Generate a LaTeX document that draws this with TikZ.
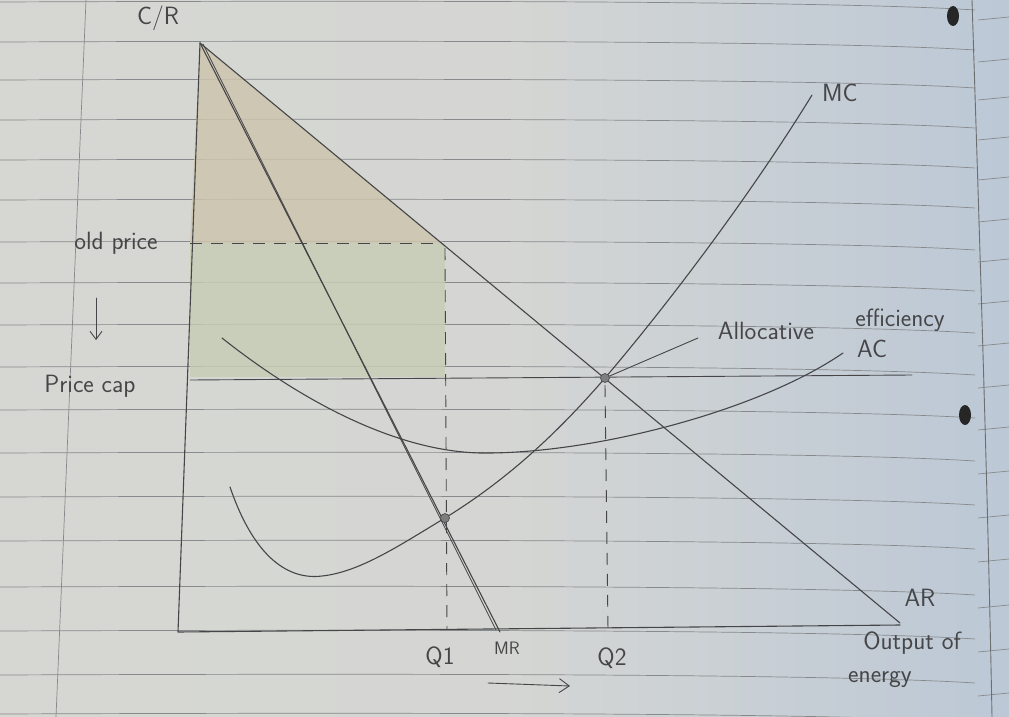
\documentclass[tikz,border=0pt]{standalone}
\usetikzlibrary{arrows.meta}
\definecolor{paperL}{RGB}{214,215,211}
\definecolor{paperR}{RGB}{188,200,214}
\definecolor{rule}{RGB}{135,138,140}
\definecolor{pencil}{RGB}{70,70,72}
\definecolor{shadeTop}{RGB}{204,196,172}
\definecolor{shadeBot}{RGB}{198,204,180}
\tikzset{
  ruled/.style={draw=rule, line width=0.7pt},
  pen/.style={draw=pencil, line width=1.1pt, line cap=round, line join=round},
  guide/.style={draw=pencil, line width=0.9pt, dash pattern=on 12pt off 9pt},
  hand/.style={text=pencil, font=\sffamily\fontsize{25}{28}\selectfont, inner sep=0pt},
  smallhand/.style={text=pencil, font=\sffamily\fontsize{18}{20}\selectfont, inner sep=0pt},
  pt/.style={circle, fill=pencil!70, draw=pencil, line width=0.6pt, minimum size=9pt, inner sep=0pt}
}
\begin{document}
\begin{tikzpicture}[x=1pt, y=-1pt]
\useasboundingbox (0,0) rectangle (1009,717);
% paper
\shade[left color=paperL, right color=paperR, middle color=paperL!95!paperR] (0,0) rectangle (1009,717);
\foreach \yy in {2,42,80,120,160,200,242,283,325,367,410,453,497,541,587,631,675,714}
  \draw[ruled] (0,\yy) .. controls (500,\yy-2) and (850,\yy) .. (975,\yy+8);
\foreach \yy in {20,62,100,140,180,222,262,304,346,388,430,474,518,562,608,652,696}
  \draw[ruled] (978,\yy) -- (1009,\yy-3);
\draw[ruled] (86,0) -- (56,717);
\draw[draw=rule!80!black, line width=0.9pt] (972,0) .. controls (980,250) and (988,500) .. (992,717);
\fill[black!85] (953,16) ellipse (6pt and 10pt);
\fill[black!85] (965,415) ellipse (6pt and 10pt);

% key points
\coordinate (apex) at (200,43);
\coordinate (origin) at (178,632);
\coordinate (xend) at (900,625);
\coordinate (arend) at (900,623);
\coordinate (mrend) at (500,632);
\coordinate (opY) at (190,243);
\coordinate (opAR) at (442,243);
\coordinate (pcY) at (190,380);
\coordinate (pcEnd) at (912,375);
\coordinate (q1top) at (445,248);
\coordinate (q1bot) at (447,630);
\coordinate (q2top) at (605,385);
\coordinate (q2bot) at (608,630);
\coordinate (lead) at (698,338);

% shaded areas
\fill[shadeTop, opacity=0.8] (apex) -- (opAR) -- (opY) -- cycle;
\fill[shadeBot, opacity=0.8] (opY) -- (445,243) -- (445,377) -- (190,377) -- cycle;

% axes
\draw[pen] (apex) -- (origin) -- (xend);

% AR and MR
\draw[pen] (apex) -- (arend);
\draw[pen] (apex) -- (mrend);
\draw[pen, line width=0.8pt] (203,44) -- (496,630);

% guide lines
\draw[guide] (opY) -- (opAR);
\draw[guide] (q1top) -- (q1bot);
\draw[guide] (q2top) -- (q2bot);
\draw[pen, line width=0.9pt] (pcY) -- (pcEnd);

% MC curve
\draw[pen] (230,487) .. controls (255,560) and (290,580) .. (322,576)
  .. controls (360,572) and (400,545) .. (445,518)
  .. controls (510,478) and (560,430) .. (605,378)
  .. controls (680,290) and (760,180) .. (812,95);
% AC curve
\draw[pen] (222,338) .. controls (300,400) and (400,455) .. (490,453)
  .. controls (600,452) and (760,410) .. (843,353);

% intersections
\node[pt] (eq1) at (445,518) {};
\node[pt] (eq2) at (605,378) {};
\draw[pen, line width=0.9pt] (eq2) -- (lead);

% labels
\node[hand] (cr) at (158,18) {C/R};
\node[hand] (old) at (116,243) {old price};
\node[hand] (pc) at (90,386) {Price cap};
\coordinate (arrA) at (96,298);
\coordinate (arrB) at (96,340);
\draw[pen, line width=0.9pt, -{Straight Barb[length=8pt, width=12pt]}] (arrA) -- (arrB);
\node[hand] (mc) at (840,93) {MC};
\node[hand] (alloc) at (766,331) {Allocative};
\node[hand] (eff) at (900,320) {efficiency};
\node[hand] (ac) at (872,349) {AC};
\node[hand] (ar) at (920,598) {AR};
\node[hand] (q1) at (440,657) {Q1};
\node[smallhand] (mr) at (507,648) {MR};
\node[hand] (q2) at (612,658) {Q2};
\node[hand] (out) at (912,643) {Output of};
\node[hand] (en) at (880,680) {energy};
\coordinate (ra) at (488,683);
\coordinate (rb) at (570,686);
\draw[pen, line width=0.9pt, -{Straight Barb[length=10pt, width=14pt]}] (ra) -- (rb);
\end{tikzpicture}
\end{document}
